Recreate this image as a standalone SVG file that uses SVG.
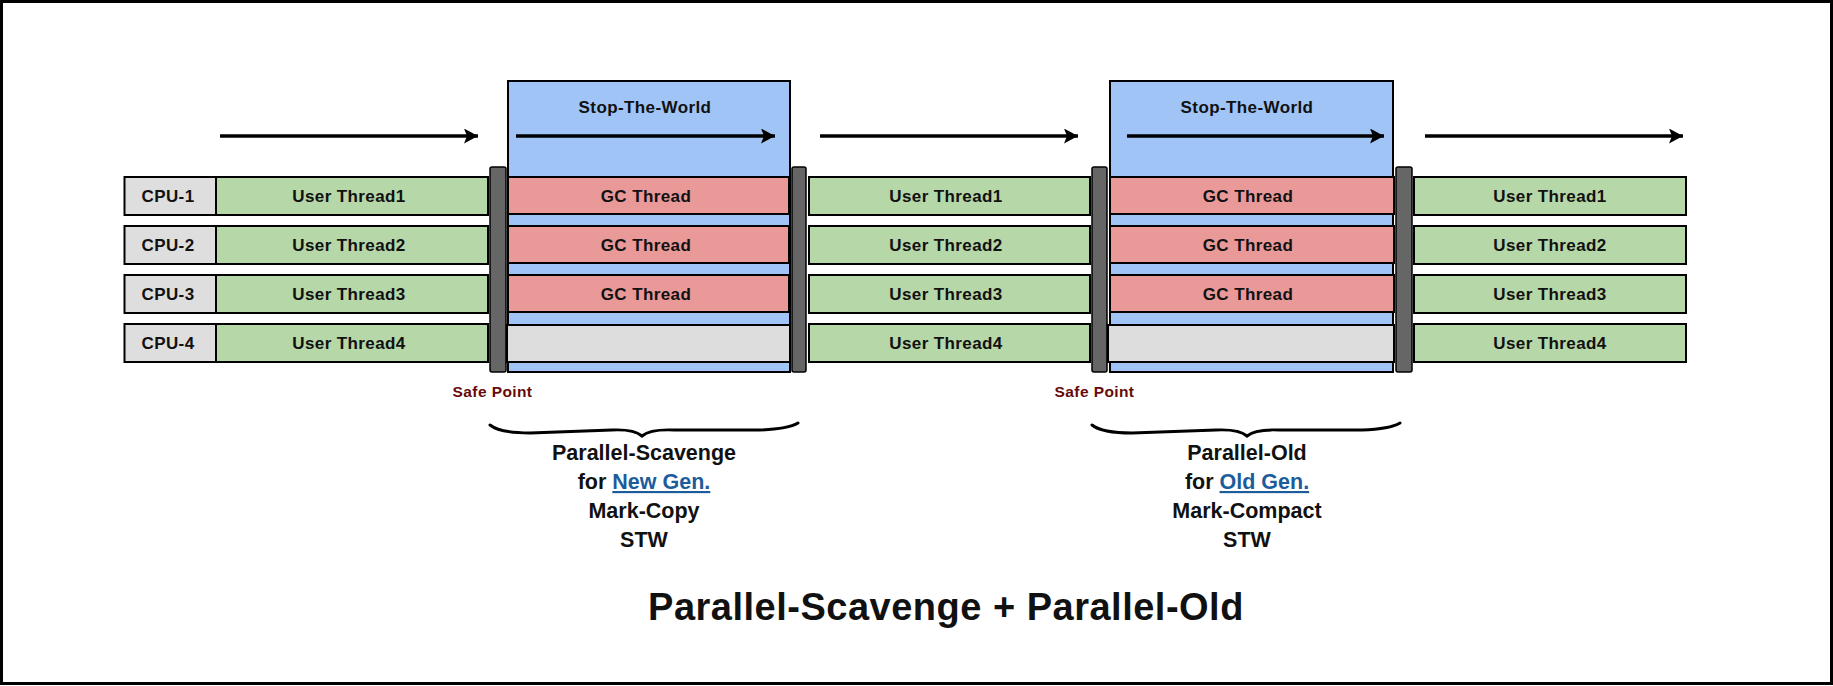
<svg xmlns="http://www.w3.org/2000/svg" width="1833" height="686" viewBox="0 0 1833 686">
<defs>
<marker id="ah" markerUnits="userSpaceOnUse" markerWidth="16" markerHeight="16" refX="14" refY="7.5" orient="auto">
<path d="M0,0 L14,7.5 L0,15 L3,7.5 z" fill="#000"/>
</marker>
<style>
text{font-family:"Liberation Sans",Arial,sans-serif;font-weight:bold;text-anchor:middle;fill:#111}
.t{font-size:17px;letter-spacing:0.4px}
.cpu{fill:#dedede;stroke:#000;stroke-width:2}
.ut{fill:#b6d7a8;stroke:#000;stroke-width:2}
.gc{fill:#ea9999;stroke:#000;stroke-width:2}
.idle{fill:#dddddd;stroke:#000;stroke-width:2}
.stw{fill:#a0c4f6;stroke:#000;stroke-width:2}
.bar{fill:#666666;stroke:#000;stroke-width:1.5}
.arr{stroke:#000;stroke-width:3.5;fill:none;marker-end:url(#ah)}
.brace{stroke:#000;stroke-width:3;fill:none;stroke-linecap:round}
.sp{font-size:15.5px;fill:#660a0a;letter-spacing:0.4px}
.lbl{font-size:21.5px}
.link{fill:#1d5c9b;text-decoration:underline}
</style>
</defs>
<rect x="1.5" y="1.5" width="1830" height="682" fill="#fff" stroke="#000" stroke-width="3"/>

<g id="cpu-column">
<rect class="cpu" x="124.5" y="177" width="91.5" height="38"/>
<text class="t" x="168" y="202">CPU-1</text>
<rect class="cpu" x="124.5" y="226" width="91.5" height="38"/>
<text class="t" x="168" y="251">CPU-2</text>
<rect class="cpu" x="124.5" y="275" width="91.5" height="38"/>
<text class="t" x="168" y="300">CPU-3</text>
<rect class="cpu" x="124.5" y="324" width="91.5" height="38"/>
<text class="t" x="168" y="349">CPU-4</text>
</g>

<g id="user-threads-1">
<rect class="ut" x="216" y="177" width="272" height="38"/>
<text class="t" x="349" y="202">User Thread1</text>
<rect class="ut" x="216" y="226" width="272" height="38"/>
<text class="t" x="349" y="251">User Thread2</text>
<rect class="ut" x="216" y="275" width="272" height="38"/>
<text class="t" x="349" y="300">User Thread3</text>
<rect class="ut" x="216" y="324" width="272" height="38"/>
<text class="t" x="349" y="349">User Thread4</text>
</g>

<g id="stw-1">
<rect class="stw" x="508" y="81" width="282" height="291"/>
<text class="t" x="645" y="113">Stop-The-World</text>
<rect class="gc" x="508" y="177" width="281" height="37"/>
<text class="t" x="646" y="202">GC Thread</text>
<rect class="gc" x="508" y="226" width="281" height="37"/>
<text class="t" x="646" y="251">GC Thread</text>
<rect class="gc" x="508" y="275" width="281" height="37"/>
<text class="t" x="646" y="300">GC Thread</text>
<rect class="idle" x="507" y="325" width="283" height="37"/>
</g>

<g id="user-threads-2">
<rect class="ut" x="809" y="177" width="281" height="38"/>
<text class="t" x="946" y="202">User Thread1</text>
<rect class="ut" x="809" y="226" width="281" height="38"/>
<text class="t" x="946" y="251">User Thread2</text>
<rect class="ut" x="809" y="275" width="281" height="38"/>
<text class="t" x="946" y="300">User Thread3</text>
<rect class="ut" x="809" y="324" width="281" height="38"/>
<text class="t" x="946" y="349">User Thread4</text>
</g>

<g id="stw-2">
<rect class="stw" x="1110" y="81" width="283" height="291"/>
<text class="t" x="1247" y="113">Stop-The-World</text>
<rect class="gc" x="1110" y="177" width="284" height="37"/>
<text class="t" x="1248" y="202">GC Thread</text>
<rect class="gc" x="1110" y="226" width="284" height="37"/>
<text class="t" x="1248" y="251">GC Thread</text>
<rect class="gc" x="1110" y="275" width="284" height="37"/>
<text class="t" x="1248" y="300">GC Thread</text>
<rect class="idle" x="1108" y="325" width="286" height="37"/>
</g>

<g id="user-threads-3">
<rect class="ut" x="1414" y="177" width="272" height="38"/>
<text class="t" x="1550" y="202">User Thread1</text>
<rect class="ut" x="1414" y="226" width="272" height="38"/>
<text class="t" x="1550" y="251">User Thread2</text>
<rect class="ut" x="1414" y="275" width="272" height="38"/>
<text class="t" x="1550" y="300">User Thread3</text>
<rect class="ut" x="1414" y="324" width="272" height="38"/>
<text class="t" x="1550" y="349">User Thread4</text>
</g>

<g id="safepoint-bars">
<rect class="bar" x="490" y="167" width="16" height="205" rx="2"/>
<rect class="bar" x="792" y="167" width="14" height="205" rx="2"/>
<rect class="bar" x="1092" y="167" width="15" height="205" rx="2"/>
<rect class="bar" x="1396" y="167" width="16" height="205" rx="2"/>
</g>

<g id="safepoint-labels">
<text class="sp" x="492.5" y="397">Safe Point</text>
<text class="sp" x="1094.5" y="397">Safe Point</text>
</g>

<g id="connectors">
<line class="arr" x1="220" y1="136" x2="478" y2="136"/>
<line class="arr" x1="516" y1="136" x2="775" y2="136"/>
<line class="arr" x1="820" y1="136" x2="1078" y2="136"/>
<line class="arr" x1="1127" y1="136" x2="1384" y2="136"/>
<line class="arr" x1="1425" y1="136" x2="1683" y2="136"/>
<path class="brace" d="M490,425 Q500,433 530,433 L612,430 Q634,429 642,436 Q650,429 674,430 L760,430 Q788,429 798,423"/>
<path class="brace" d="M1092,425 Q1102,433 1132,433 L1216,430 Q1239,429 1247,436 Q1255,429 1279,430 L1362,430 Q1390,429 1400,423"/>
</g>

<g id="label-young">
<text class="lbl" x="644" y="460">Parallel-Scavenge</text>
<text class="lbl" x="644" y="489">for <tspan class="link">New Gen.</tspan></text>
<text class="lbl" x="644" y="518">Mark-Copy</text>
<text class="lbl" x="644" y="547">STW</text>
</g>

<g id="label-old">
<text class="lbl" x="1247" y="460">Parallel-Old</text>
<text class="lbl" x="1247" y="489">for <tspan class="link">Old Gen.</tspan></text>
<text class="lbl" x="1247" y="518">Mark-Compact</text>
<text class="lbl" x="1247" y="547">STW</text>
</g>

<g id="title">
<text x="946" y="620" style="font-size:38px;letter-spacing:0.5px">Parallel-Scavenge + Parallel-Old</text>
</g>
</svg>
